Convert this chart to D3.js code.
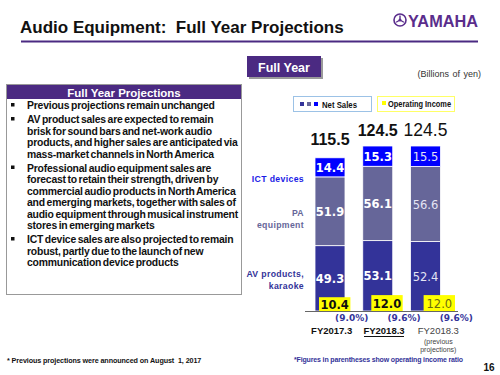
<!DOCTYPE html>
<html>
<head>
<meta charset="utf-8">
<script src="https://cdn.jsdelivr.net/npm/d3@7"></script>
<style>
  body { margin: 0; background: #fff; }
  svg { display: block; font-family: "Liberation Sans", Arial, sans-serif; }
</style>
</head>
<body>
<svg id="chart" width="500" height="375"></svg>
<script>
// data
var categories = ["FY2017.3", "FY2018.3", "FY2018.3 (prev)"];
var catLabels = ["FY2017.3", "FY2018.3", "FY2018.3"];
var avValues = [49.3, 53.1, 52.4];
var paValues = [51.9, 56.1, 56.6];
var ictValues = [14.4, 15.3, 15.5];
var totals = [115.5, 124.5, 124.5];
var opIncome = [10.4, 12.0, 12.0];
var opRatio = ["(9.0%)", "(9.6%)", "(9.6%)"];
var bullets = [
  ["Previous projections remain unchanged"],
  ["AV product sales are expected to remain",
   "brisk for sound bars and net-work audio",
   "products, and higher sales are anticipated via",
   "mass-market channels in North America"],
  ["Professional audio equipment sales are",
   "forecast to retain their strength, driven by",
   "commercial audio products in North America",
   "and emerging markets, together with sales of",
   "audio equipment through musical instrument",
   "stores in emerging markets"],
  ["ICT device sales are also projected to remain",
   "robust, partly due to the launch of new",
   "communication device products"]
];

(function () {
  var svg = d3.select("#chart");
  var purple = "#4b2a82";

  // title + rule + logo
  svg.append("text").attr("x", 20).attr("y", 33)
    .text("Audio Equipment:  Full Year Projections")
    .style("white-space", "pre")
    .style("font-size", "17px").style("font-weight", "bold").attr("fill", "#111");
  svg.append("line").attr("x1", 21).attr("x2", 478).attr("y1", 41.5).attr("y2", 41.5)
    .attr("stroke", purple).attr("stroke-width", 2);
  var logo = svg.append("g").attr("transform", "translate(400,20)");
  logo.append("circle").attr("r", 6).attr("fill", "none").attr("stroke", "#5a2d8c").attr("stroke-width", 1.6);
  [0, 120, 240].forEach(function (a) {
    logo.append("line").attr("x1", 0).attr("y1", 0).attr("x2", 0).attr("y2", -4.5)
      .attr("transform", "rotate(" + a + ")").attr("stroke", "#5a2d8c").attr("stroke-width", 1.4);
  });
  logo.append("circle").attr("r", 1.5).attr("fill", "#5a2d8c");
  svg.append("text").attr("x", 408).attr("y", 27).text("YAMAHA")
    .attr("textLength", 70).attr("lengthAdjust", "spacingAndGlyphs")
    .style("font-size", "17px").style("font-weight", "bold").attr("fill", "#5a2d8c");

  // Full Year tab
  svg.append("rect").attr("x", 249).attr("y", 58).attr("width", 74).attr("height", 21).attr("fill", "#9a9a9a");
  svg.append("rect").attr("x", 247).attr("y", 56).attr("width", 74).attr("height", 21).attr("fill", purple);
  svg.append("text").attr("x", 284).attr("y", 71.5).attr("text-anchor", "middle").text("Full Year")
    .style("font-size", "12.5px").style("font-weight", "bold").attr("fill", "#fff");

  svg.append("text").attr("x", 481).attr("y", 77).attr("text-anchor", "end").text("(Billions of yen)")
    .style("font-size", "9px").attr("word-spacing", "1px").attr("fill", "#333");

  // left text box
  svg.append("rect").attr("x", 6.5).attr("y", 84.5).attr("width", 235).attr("height", 210)
    .attr("fill", "#fff").attr("stroke", "#999");
  svg.append("rect").attr("x", 7).attr("y", 85).attr("width", 234).attr("height", 14).attr("fill", purple);
  svg.append("text").attr("x", 124).attr("y", 96.5).attr("text-anchor", "middle").text("Full Year Projections")
    .style("font-size", "11.5px").style("font-weight", "bold").attr("fill", "#fff");

  var ly = 109;
  bullets.forEach(function (b) {
    svg.append("rect").attr("x", 11).attr("y", ly - 6).attr("width", 3.5).attr("height", 3.5).attr("fill", "#111");
    b.forEach(function (line) {
      svg.append("text").attr("x", 27).attr("y", ly).text(line)
        .style("font-size", "10.4px").style("font-weight", "bold")
        .attr("letter-spacing", "-0.2px").attr("word-spacing", "-1px").attr("fill", "#111");
      ly += 11.5;
    });
    ly += 2.5;
  });

  // chart scales
  var x = d3.scaleBand().domain(categories).range([315, 440.5]).paddingInner(0.372);
  var xo = d3.scaleBand().domain(categories).range([319, 455]).paddingInner(0.4);
  var y = d3.scaleLinear().domain([0, 124.5]).range([311, 146]);

  var keys = ["av", "pa", "ict"];
  var colors = d3.scaleOrdinal().domain(keys).range(["#333399", "#666699", "#0000ff"]);
  var rows = categories.map(function (c, i) {
    return { cat: c, av: avValues[i], pa: paValues[i], ict: ictValues[i] };
  });
  var stacked = d3.stack().keys(keys)(rows);

  var layers = svg.append("g").selectAll("g").data(stacked).enter().append("g")
    .attr("fill", function (d) { return colors(d.key); });
  layers.selectAll("rect").data(function (d) { return d; }).enter().append("rect")
    .attr("x", function (d) { return x(d.data.cat); })
    .attr("y", function (d) { return y(d[1]); })
    .attr("width", x.bandwidth())
    .attr("height", function (d) { return y(d[0]) - y(d[1]); })
    .attr("stroke", "#fff").attr("stroke-width", 0.8);

  // segment values
  stacked.forEach(function (layer) {
    layer.forEach(function (d, i) {
      svg.append("text")
        .attr("x", x(d.data.cat) + x.bandwidth() / 2)
        .attr("y", (y(d[0]) + y(d[1])) / 2 + 4.5)
        .attr("text-anchor", "middle")
        .text(d3.format(".1f")(d[1] - d[0]))
        .style("font-family", "'DejaVu Sans', Verdana, sans-serif")
        .style("font-size", "11.5px")
        .style("font-weight", i < 2 ? "bold" : "normal")
        .attr("fill", i < 2 ? "#fff" : "#e4e4f4");
    });
  });

  // totals
  totals.forEach(function (t, i) {
    svg.append("text")
      .attr("x", x(categories[i]) + x.bandwidth() / 2)
      .attr("y", y(t) - (i === 0 ? 13 : 10))
      .attr("text-anchor", "middle").text(d3.format(".1f")(t))
      .style("font-size", i < 2 ? "16px" : "17.5px")
      .style("font-weight", i < 2 ? "bold" : "normal").attr("fill", "#111");
  });

  // operating income boxes
  svg.append("g").selectAll("rect").data(opIncome).enter().append("rect")
    .attr("x", function (d, i) { return xo(categories[i]); })
    .attr("y", function (d) { return y(d); })
    .attr("width", xo.bandwidth())
    .attr("height", function (d) { return y(0) - y(d); })
    .attr("fill", "#ffff00");
  opIncome.forEach(function (v, i) {
    svg.append("text")
      .attr("x", xo(categories[i]) + xo.bandwidth() / 2)
      .attr("y", (y(0) + y(v)) / 2 + 4.5)
      .attr("text-anchor", "middle").text(d3.format(".1f")(v))
      .style("font-family", "'DejaVu Sans', Verdana, sans-serif")
      .style("font-size", "11.5px")
      .style("font-weight", i < 2 ? "bold" : "normal")
      .attr("fill", i < 2 ? "#111" : "#6b6b10");
    svg.append("text")
      .attr("x", xo(categories[i]) + xo.bandwidth() / 2 + 17)
      .attr("y", y(0) + 10)
      .attr("text-anchor", "middle").text(opRatio[i])
      .style("font-family", "'DejaVu Sans', Verdana, sans-serif")
      .style("font-size", "9px").style("font-weight", "bold").attr("fill", "#333399");
  });

  // baseline
  svg.append("line").attr("x1", 305).attr("x2", 458).attr("y1", y(0) + 0.5).attr("y2", y(0) + 0.5)
    .attr("stroke", "#666").attr("stroke-width", 1);

  // category labels
  catLabels.forEach(function (c, i) {
    var cx = xo(categories[i]) + xo.bandwidth() / 2 - 3 + (i === 2 ? 2 : 0);
    svg.append("text").attr("x", cx).attr("y", 334).attr("text-anchor", "middle").text(c)
      .style("font-size", "9.5px").style("font-weight", i < 2 ? "bold" : "normal")
      .attr("fill", i < 2 ? "#111" : "#444");
    if (i === 1) {
      svg.append("line").attr("x1", cx - 20).attr("x2", cx + 20).attr("y1", 336.5).attr("y2", 336.5)
        .attr("stroke", "#111").attr("stroke-width", 1);
    }
  });
  var px = xo(categories[2]) + xo.bandwidth() / 2 - 1;
  svg.append("text").attr("x", px).attr("y", 344).attr("text-anchor", "middle").text("(previous")
    .style("font-size", "7px").attr("fill", "#444");
  svg.append("text").attr("x", px).attr("y", 352).attr("text-anchor", "middle").text("projections)")
    .style("font-size", "7px").attr("fill", "#444");

  // series labels on the left of the bars
  var s0 = stacked.map(function (l) { return l[0]; });
  function sideLabel(txt, yy, col, bold) {
    svg.append("text").attr("x", 304).attr("y", yy).attr("text-anchor", "end").text(txt)
      .style("font-size", "8.7px").style("font-weight", bold ? "bold" : "normal")
      .attr("letter-spacing", "0.35px").attr("fill", col);
  }
  sideLabel("ICT devices", y(s0[2][0]) + 5, "#1a1ae6", true);
  var paMid = (y(s0[1][0]) + y(s0[1][1])) / 2;
  sideLabel("PA", paMid + 5, "#666699", true);
  sideLabel("equipment", paMid + 17, "#666699", true);
  var avMid = (y(s0[0][0]) + y(s0[0][1])) / 2;
  sideLabel("AV products,", avMid - 1, "#333399", true);
  sideLabel("karaoke", avMid + 11, "#333399", true);

  // legend
  svg.append("rect").attr("x", 293.5).attr("y", 96.5).attr("width", 78).attr("height", 15)
    .attr("fill", "#fff").attr("stroke", "#9cc2e6");
  keys.forEach(function (k, i) {
    svg.append("rect").attr("x", 300 + i * 7).attr("y", 102).attr("width", 4).attr("height", 4).attr("fill", colors(k));
  });
  svg.append("text").attr("x", 322).attr("y", 107.5).text("Net Sales")
    .attr("textLength", 35).attr("lengthAdjust", "spacingAndGlyphs")
    .style("font-size", "8.5px").style("font-weight", "bold").attr("fill", "#111");
  svg.append("rect").attr("x", 377.5).attr("y", 96.5).attr("width", 77).attr("height", 15)
    .attr("fill", "#fff").attr("stroke", "#ffff66");
  svg.append("rect").attr("x", 382).attr("y", 101).attr("width", 4).attr("height", 4).attr("fill", "#ffff00");
  svg.append("text").attr("x", 388).attr("y", 106.5).text("Operating Income")
    .attr("textLength", 63).attr("lengthAdjust", "spacingAndGlyphs")
    .style("font-size", "8.5px").style("font-weight", "bold").attr("fill", "#111");

  // footnotes
  svg.append("text").attr("x", 7).attr("y", 363).text("* Previous projections were announced on August  1, 2017")
    .style("white-space", "pre")
    .style("font-size", "7.2px").style("font-weight", "bold").attr("letter-spacing", "-0.1px").attr("fill", "#111");
  svg.append("text").attr("x", 294).attr("y", 362).text("*Figures in parentheses show operating income ratio")
    .style("font-size", "7px").style("font-weight", "bold").attr("letter-spacing", "-0.15px").attr("fill", "#333399");
  svg.append("text").attr("x", 489).attr("y", 371).attr("text-anchor", "middle").text("16")
    .style("font-size", "10px").style("font-weight", "bold").attr("fill", "#111");
})();
</script>
</body>
</html>
